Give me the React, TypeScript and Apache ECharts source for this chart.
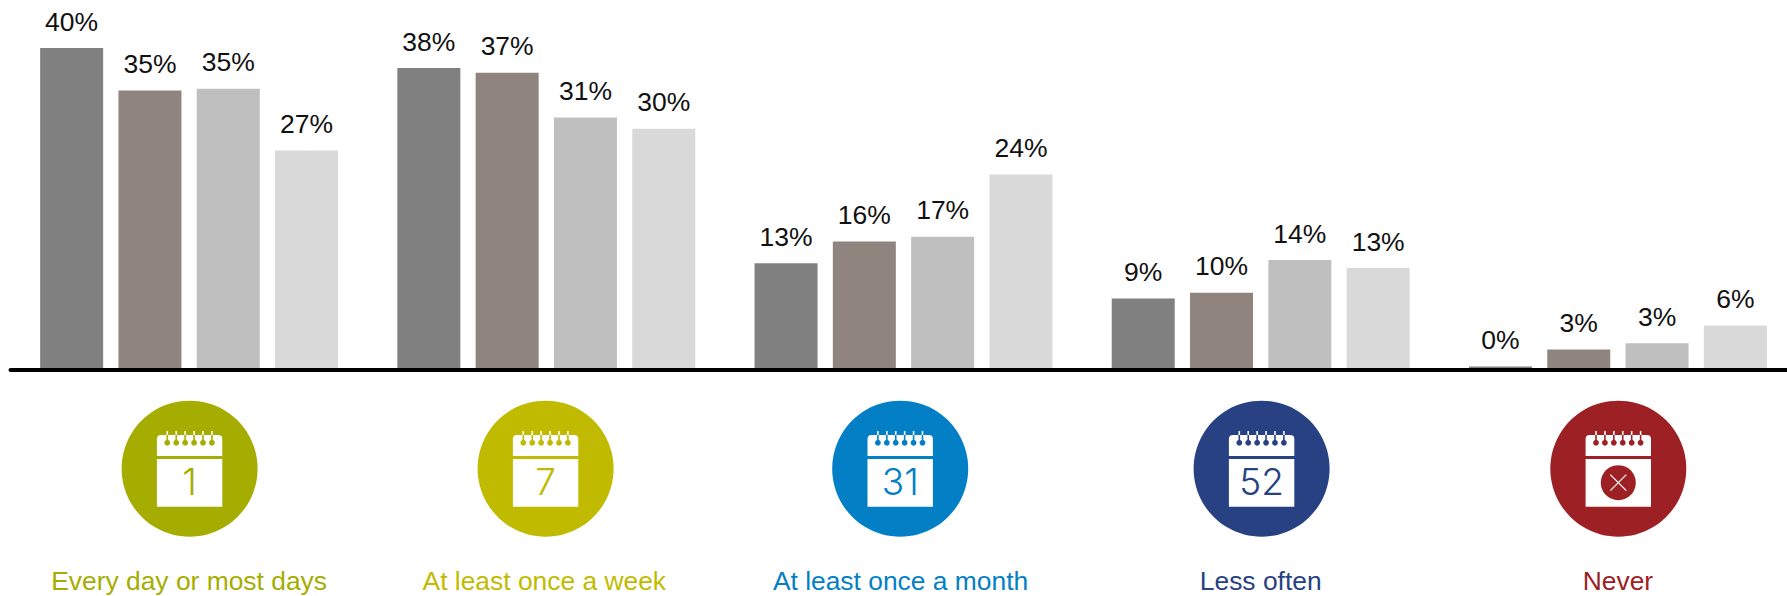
import React, { useEffect, useRef } from "react";
import * as echarts from "echarts";

const categories = ["Every day or most days", "At least once a week", "At least once a month", "Less often", "Never"];
const seriesNames = ["Group A", "Group B", "Group C", "Group D"];
const valuesA = [40, 37.5, 13.1, 8.7, 0.2];
const valuesB = [34.7, 36.9, 15.8, 9.4, 2.3];
const valuesC = [34.9, 31.3, 16.4, 13.5, 3.1];
const valuesD = [27.2, 29.9, 24.2, 12.5, 5.3];
const labelsA = ["40%", "38%", "13%", "9%", "0%"];
const labelsB = ["35%", "37%", "16%", "10%", "3%"];
const labelsC = ["35%", "31%", "17%", "14%", "3%"];
const labelsD = ["27%", "30%", "24%", "13%", "6%"];
const barColors = ["#808080", "#8f857e", "#bfbfbf", "#d9d9d9"];
const catColors = ["#a5ad00", "#c0bb00", "#037fc6", "#274183", "#9c2024"];
const catLabelPadRight = [0, 4, 6, 0, 0];
const iconDays = ["1", "7", "31", "52", ""];
const iconCenters = [189.6, 545.6, 900.2, 1261.6, 1618.3];
const FONT = '"Liberation Sans", Arial, sans-serif';

function calendarIcon(cx: number, color: string, day: string) {
  const children: any[] = [
    { type: "circle", shape: { cx: 0, cy: 0, r: 68 }, style: { fill: color } },
    { type: "rect", shape: { x: -32.7, y: -33.7, width: 65.4, height: 21, r: [4, 4, 0, 0] }, style: { fill: "#fff" } },
    { type: "rect", shape: { x: -32.7, y: -9.7, width: 65.4, height: 47.7 }, style: { fill: "#fff" } },
  ];
  for (let i = 0; i < 6; i++) {
    const px = -22.3 + i * 8.92;
    children.push(
      { type: "line", shape: { x1: px, y1: -37.7, x2: px, y2: -33.7 }, style: { stroke: "#fff", lineWidth: 1.6 } },
      { type: "line", shape: { x1: px, y1: -33.7, x2: px, y2: -27 }, style: { stroke: color, lineWidth: 1.6 } },
      { type: "circle", shape: { cx: px, cy: -26, r: 2.9 }, style: { fill: color } }
    );
  }
  if (day) {
    children.push({
      type: "text",
      style: {
        x: 0, y: 13, text: day, fill: color, align: "center", verticalAlign: "middle",
        font: '300 37px Inter, "Noto Sans", sans-serif',
      },
    });
  } else {
    children.push(
      { type: "circle", shape: { cx: 0, cy: 14, r: 17.5 }, style: { fill: color } },
      { type: "line", shape: { x1: -8, y1: 6, x2: 8, y2: 22 }, style: { stroke: "#fff", lineWidth: 1.2 } },
      { type: "line", shape: { x1: 8, y1: 6, x2: -8, y2: 22 }, style: { stroke: "#fff", lineWidth: 1.2 } }
    );
  }
  return { type: "group", x: cx, y: 468.7, children };
}

function barSeries(i: number, values: number[], labels: string[]) {
  return {
    name: seriesNames[i],
    type: "bar",
    data: values,
    barWidth: 63,
    barGap: "24.3%",
    itemStyle: { color: barColors[i] },
    label: {
      show: true,
      position: "top",
      distance: 13,
      fontSize: 26.5,
      fontFamily: FONT,
      color: "#111",
      formatter: (p: any) => labels[p.dataIndex],
    },
  };
}

const catRich: any = {};
catColors.forEach((c, i) => {
  catRich["c" + i] = { color: c, fontSize: 26.4, fontFamily: FONT, padding: [0, catLabelPadRight[i], 0, 0] };
});

export default function App() {
  const ref = useRef<HTMLDivElement>(null);
  useEffect(() => {
    const chart = echarts.init(ref.current!, undefined, { renderer: "svg" });
    chart.setOption({
      animation: false,
      backgroundColor: "#fff",
      grid: { left: 10.5, top: 0, width: 1786, height: 368, containLabel: false },
      xAxis: {
        type: "category",
        data: categories,
        offset: 2,
        axisLine: { show: true, onZero: false, lineStyle: { color: "#000", width: 4 } },
        axisTick: { show: false },
        axisLabel: {
          interval: 0,
          margin: 198,
          fontSize: 26.4,
          fontFamily: FONT,
          formatter: (v: string, i: number) => `{c${i}|${v}}`,
          rich: catRich,
        },
      },
      yAxis: { type: "value", min: 0, max: 46, show: false, splitLine: { show: false } },
      series: [
        barSeries(0, valuesA, labelsA),
        barSeries(1, valuesB, labelsB),
        barSeries(2, valuesC, labelsC),
        barSeries(3, valuesD, labelsD),
      ],
      graphic: iconCenters.map((cx, i) => calendarIcon(cx, catColors[i], iconDays[i])),
    });
    return () => chart.dispose();
  }, []);
  return (
    <div style={{ position: "fixed", left: 0, top: 0, width: 1787, height: 596, overflow: "hidden" }}>
      <div ref={ref} style={{ width: 1800, height: 596 }} />
    </div>
  );
}
